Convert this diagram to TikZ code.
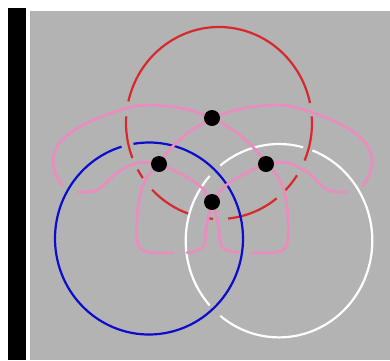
\documentclass[tikz,border=0pt]{standalone}
\usepackage{tikz}
\definecolor{bggrey}{HTML}{B3B3B3}
\definecolor{ringred}{HTML}{D8282C}
\definecolor{ringblue}{HTML}{0C0CCC}
\definecolor{linkpink}{HTML}{EA8CBE}
\tikzset{
  ring/.style={line width=2.2pt},
  band/.style={line width=2.7pt,linkpink,line cap=round},
  dot/.style={circle,fill=black,inner sep=0pt,minimum size=16pt}
}
\begin{document}
\begin{tikzpicture}[x=1pt,y=-1pt]
	\useasboundingbox (0,0) rectangle (390,360);
	\fill[white] (0,0) rectangle (390,360);
	\fill[black] (8,8) rectangle (26,360);
	\fill[bggrey] (30,11) rectangle (390,360);
	% the three rings, broken where they pass under
	\foreach \a/\b in {-4/23,33/44.5,51.7/84.4,93.7/97,109/136,145/151,158.6/184,193/348}
		\draw[ring,ringred] (219,123) ++(\a:93 and 96) arc[start angle=\a,end angle=\b,x radius=93,y radius=96];
	\foreach \a/\b in {260.5/613}
		\draw[ring,ringblue] (149,238.5) ++(\a:94 and 96) arc[start angle=\a,end angle=\b,x radius=94,y radius=96];
	\foreach \a/\b in {-69/129,138/222,231/285}
		\draw[ring,white] (279,240.7) ++(\a:93.3 and 96.7) arc[start angle=\a,end angle=\b,x radius=93.3,y radius=96.7];
	% pink link, left lobe with right tooth, then its mirror image
	\foreach \s/\m in {0/1,425/-1}{
	\begin{scope}[shift={(\s,0)},xscale=\m]
		\draw[band] plot[smooth,tension=0.55] coordinates {(252,253) (278,252) (287,244) (288,220) (285,195) (278,177) (266,164) (259,154) (249,143) (233,130) (212,118) (185,109) (150,105) (127,108) (106,115) (85,124) (70,133) (58,145) (53,160) (56,175) (62,185)};
		\draw[band] plot[smooth,tension=0.55] coordinates {(78,192) (97,190) (117,173) (137,163) (159,164) (175,171) (193,181) (204,190) (212,202) (216,214) (219,230) (221,245) (229,251) (238,252.5)};
	\end{scope}}
	% crossing points
	\node[dot] (top) at (212,118) {};
	\node[dot] (lft) at (159,164) {};
	\node[dot] (rgt) at (266,164) {};
	\node[dot] (mid) at (212,202) {};
\end{tikzpicture}
\end{document}
